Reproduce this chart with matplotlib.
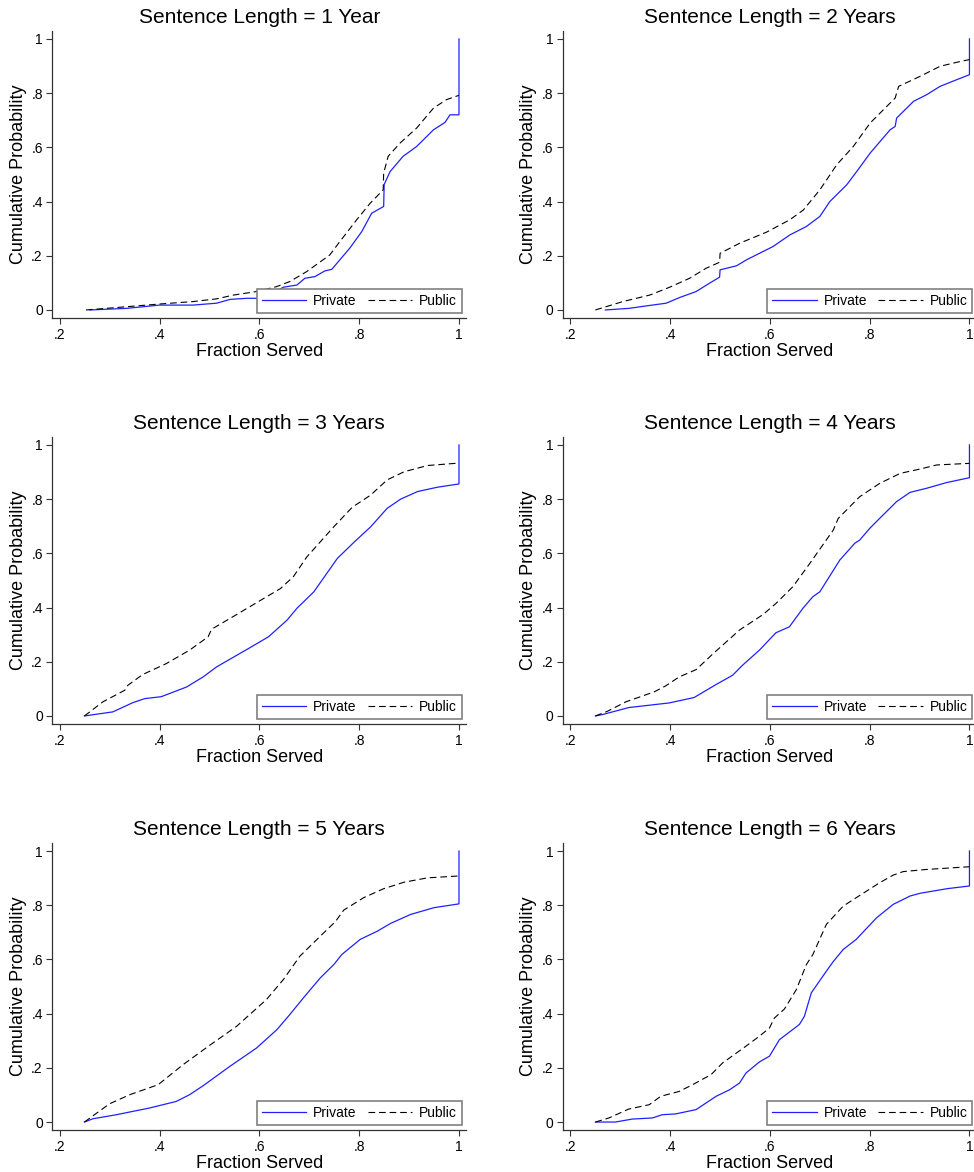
import matplotlib.pyplot as plt

plt.rcParams['font.family'] = ['Liberation Sans', 'DejaVu Sans']

# Valores: fraccion cumplida (x) y probabilidad acumulada (y)
years = [1, 2, 3, 4, 5, 6]
titles = ['Sentence Length = 1 Year', 'Sentence Length = 2 Years', 'Sentence Length = 3 Years',
          'Sentence Length = 4 Years', 'Sentence Length = 5 Years', 'Sentence Length = 6 Years']

# 1 year
priv_x_1 = [0.26, 0.334, 0.4, 0.467, 0.514, 0.541, 0.574, 0.608, 0.648, 0.675, 0.691, 0.711, 0.731, 0.745,
            0.781, 0.805, 0.825, 0.849, 0.85, 0.862, 0.888, 0.915, 0.949, 0.972, 0.982, 1.0, 1.0]
priv_y_1 = [0.0, 0.006, 0.018, 0.018, 0.025, 0.039, 0.043, 0.043, 0.084, 0.092, 0.117, 0.123, 0.144, 0.15,
            0.228, 0.289, 0.357, 0.382, 0.463, 0.511, 0.567, 0.603, 0.665, 0.692, 0.72, 0.72, 1.0]
pub_x_1 = [0.252, 0.334, 0.4, 0.467, 0.514, 0.548, 0.594, 0.634, 0.661, 0.695, 0.741, 0.761, 0.795, 0.822,
           0.848, 0.849, 0.858, 0.882, 0.915, 0.949, 0.975, 1.0]
pub_y_1 = [0.0, 0.012, 0.022, 0.031, 0.041, 0.055, 0.068, 0.086, 0.105, 0.142, 0.203, 0.252, 0.333, 0.394,
           0.443, 0.505, 0.567, 0.616, 0.671, 0.745, 0.776, 0.792]

# 2 years
priv_x_2 = [0.27, 0.318, 0.352, 0.392, 0.419, 0.452, 0.479, 0.499, 0.5, 0.533, 0.553, 0.606, 0.64, 0.673,
            0.7, 0.72, 0.754, 0.774, 0.801, 0.841, 0.851, 0.854, 0.888, 0.914, 0.941, 0.975, 1.0, 1.0]
priv_y_2 = [0.0, 0.006, 0.015, 0.025, 0.046, 0.068, 0.099, 0.121, 0.148, 0.163, 0.185, 0.234, 0.277, 0.308,
            0.345, 0.4, 0.462, 0.511, 0.579, 0.665, 0.677, 0.708, 0.77, 0.794, 0.825, 0.85, 0.868, 1.0]
pub_x_2 = [0.25, 0.305, 0.359, 0.399, 0.439, 0.472, 0.499, 0.5, 0.539, 0.593, 0.64, 0.667, 0.7, 0.734,
           0.767, 0.801, 0.851, 0.858, 0.901, 0.941, 0.975, 1.0]
pub_y_2 = [0.0, 0.031, 0.055, 0.084, 0.117, 0.154, 0.176, 0.209, 0.246, 0.287, 0.333, 0.369, 0.443, 0.536,
           0.603, 0.69, 0.782, 0.825, 0.862, 0.899, 0.914, 0.924]

# 3 years
priv_x_3 = [0.249, 0.306, 0.346, 0.37, 0.403, 0.454, 0.487, 0.514, 0.581, 0.618, 0.655, 0.675, 0.709,
            0.756, 0.789, 0.823, 0.856, 0.883, 0.917, 0.957, 1.0, 1.0]
priv_y_3 = [0.0, 0.015, 0.049, 0.064, 0.071, 0.107, 0.144, 0.181, 0.252, 0.292, 0.353, 0.397, 0.458,
            0.581, 0.64, 0.698, 0.766, 0.8, 0.828, 0.844, 0.856, 1.0]
pub_x_3 = [0.249, 0.286, 0.33, 0.336, 0.366, 0.413, 0.46, 0.497, 0.504, 0.554, 0.608, 0.642, 0.668,
           0.695, 0.749, 0.786, 0.823, 0.856, 0.89, 0.937, 1.0]
pub_y_3 = [0.0, 0.052, 0.095, 0.113, 0.153, 0.193, 0.243, 0.292, 0.32, 0.374, 0.433, 0.47, 0.514,
           0.587, 0.698, 0.77, 0.815, 0.871, 0.901, 0.924, 0.933]

# 4 years
priv_x_4 = [0.25, 0.264, 0.317, 0.398, 0.448, 0.492, 0.525, 0.545, 0.579, 0.612, 0.639, 0.666, 0.686, 0.7,
            0.74, 0.77, 0.78, 0.8, 0.82, 0.854, 0.881, 0.914, 0.954, 1.0, 1.0]
priv_y_4 = [0.0, 0.005, 0.031, 0.048, 0.068, 0.116, 0.15, 0.187, 0.243, 0.307, 0.329, 0.397, 0.44, 0.458,
            0.575, 0.637, 0.649, 0.692, 0.729, 0.791, 0.825, 0.84, 0.861, 0.879, 1.0]
pub_x_4 = [0.25, 0.274, 0.311, 0.368, 0.391, 0.418, 0.452, 0.485, 0.539, 0.586, 0.612, 0.646, 0.68,
           0.727, 0.737, 0.78, 0.82, 0.861, 0.901, 0.934, 1.0]
pub_y_4 = [0.0, 0.017, 0.052, 0.089, 0.111, 0.144, 0.171, 0.228, 0.317, 0.374, 0.415, 0.477, 0.563,
           0.686, 0.729, 0.809, 0.858, 0.895, 0.911, 0.926, 0.932]

# 5 years
priv_x_5 = [0.249, 0.266, 0.313, 0.38, 0.433, 0.46, 0.487, 0.541, 0.594, 0.635, 0.661, 0.688, 0.722,
            0.749, 0.765, 0.802, 0.836, 0.863, 0.903, 0.95, 1.0, 1.0]
priv_y_5 = [0.0, 0.012, 0.027, 0.052, 0.076, 0.101, 0.134, 0.206, 0.273, 0.341, 0.397, 0.458, 0.532,
            0.581, 0.618, 0.674, 0.704, 0.733, 0.766, 0.791, 0.805, 1.0]
pub_x_5 = [0.249, 0.299, 0.34, 0.397, 0.447, 0.5, 0.554, 0.614, 0.648, 0.681, 0.722, 0.752, 0.769,
           0.809, 0.849, 0.89, 0.937, 1.0]
pub_y_5 = [0.0, 0.067, 0.101, 0.138, 0.212, 0.283, 0.353, 0.452, 0.526, 0.612, 0.686, 0.739, 0.782,
           0.828, 0.861, 0.885, 0.901, 0.908]

# 6 years
priv_x_6 = [0.25, 0.29, 0.324, 0.364, 0.384, 0.411, 0.452, 0.492, 0.519, 0.539, 0.552, 0.579, 0.599,
            0.619, 0.659, 0.669, 0.683, 0.706, 0.726, 0.747, 0.773, 0.814, 0.847, 0.881, 0.901, 0.955,
            1.0, 1.0]
priv_y_6 = [0.0, 0.0, 0.011, 0.015, 0.027, 0.03, 0.046, 0.095, 0.119, 0.144, 0.181, 0.222, 0.243,
            0.304, 0.36, 0.39, 0.477, 0.538, 0.59, 0.637, 0.674, 0.754, 0.803, 0.834, 0.844, 0.861,
            0.871, 1.0]
pub_x_6 = [0.25, 0.277, 0.317, 0.358, 0.381, 0.418, 0.445, 0.482, 0.505, 0.552, 0.579, 0.599, 0.609,
           0.629, 0.653, 0.673, 0.686, 0.713, 0.747, 0.78, 0.82, 0.847, 0.867, 0.914, 1.0]
pub_y_6 = [0.0, 0.015, 0.048, 0.064, 0.095, 0.113, 0.138, 0.175, 0.218, 0.28, 0.317, 0.347, 0.384,
           0.417, 0.489, 0.581, 0.618, 0.729, 0.797, 0.836, 0.883, 0.911, 0.924, 0.932, 0.942]

private_x = [priv_x_1, priv_x_2, priv_x_3, priv_x_4, priv_x_5, priv_x_6]
private_y = [priv_y_1, priv_y_2, priv_y_3, priv_y_4, priv_y_5, priv_y_6]
public_x = [pub_x_1, pub_x_2, pub_x_3, pub_x_4, pub_x_5, pub_x_6]
public_y = [pub_y_1, pub_y_2, pub_y_3, pub_y_4, pub_y_5, pub_y_6]

xticks = [0.2, 0.4, 0.6, 0.8, 1.0]
xticklabels = ['.2', '.4', '.6', '.8', '1']
yticks = [0, 0.2, 0.4, 0.6, 0.8, 1.0]
yticklabels = ['0', '.2', '.4', '.6', '.8', '1']

fig = plt.figure(figsize=(9.74, 11.72), dpi=100)

lefts = [0.0539, 0.578]
bottoms = [0.7287, 0.3823, 0.0358]
ax_w, ax_h = 0.4245, 0.2449
spine_col = '#333333'

for i in range(6):
    row, col = i // 2, i % 2
    ax = fig.add_axes([lefts[col], bottoms[row], ax_w, ax_h])
    ax.plot(private_x[i], private_y[i], color='#2020ff', lw=0.9, label='Private')
    ax.plot(public_x[i], public_y[i], color='black', lw=0.8, linestyle=(0, (6, 3.5)), label='Public')

    ax.set_xlim(0.185, 1.014)
    ax.set_ylim(-0.0295, 1.0295)
    ax.set_xticks(xticks)
    ax.set_xticklabels(xticklabels)
    ax.set_yticks(yticks)
    ax.set_yticklabels(yticklabels)
    ax.tick_params(labelsize=10, length=4, width=0.8, color=spine_col, pad=3)
    for s in ['top', 'right']:
        ax.spines[s].set_visible(False)
    for s in ['left', 'bottom']:
        ax.spines[s].set_color(spine_col)
        ax.spines[s].set_linewidth(0.9)

    ax.set_title(titles[i], fontsize=15, pad=6)
    ax.set_xlabel('Fraction Served', fontsize=13, labelpad=1)
    ax.set_ylabel('Cumulative Probability', fontsize=13, labelpad=3)

    leg = ax.legend(loc='lower left', bbox_to_anchor=(0.4946, 0.0174, 0.4954, 0.0836), mode='expand',
                    ncol=2, fontsize=10, frameon=True, framealpha=1, fancybox=False, handlelength=3.2,
                    borderaxespad=0, borderpad=0.35, handletextpad=0.5, columnspacing=1.0)
    leg.get_frame().set_edgecolor('#808080')
    leg.get_frame().set_linewidth(1.2)

fig.savefig('out.png', dpi=100)
